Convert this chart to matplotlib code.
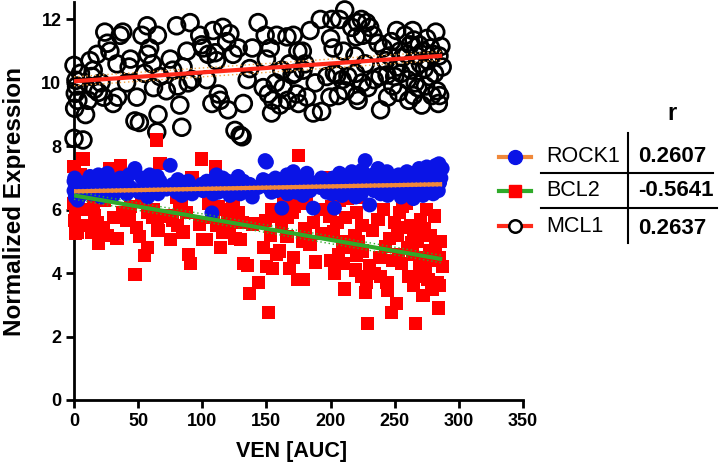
import matplotlib
matplotlib.use("Agg")
import matplotlib.pyplot as plt
from matplotlib.lines import Line2D
import numpy as np

plt.rcParams['font.family'] = ['Liberation Sans', 'DejaVu Sans']

# VEN AUC per sample (shared by all three genes)
ven_auc = [
    0, 0, 0.5, 1, 1.5, 2, 3, 5, 7, 9,
    11, 12.5, 14, 15, 16, 18, 19, 21, 23, 24, 26, 28, 30.5, 33.5, 34, 36, 38, 41, 43, 44, 47.5, 49,
    51, 53, 55, 57, 57.5, 59, 61, 62, 64.5, 65, 65.5, 67, 72, 75, 77, 80, 81, 82.5, 84, 85, 88, 89, 90.5, 92, 98,
    99.5, 100.5, 103.5, 104.6, 107.5, 108.5, 110, 111, 112.5, 114, 116, 119, 120, 121.5, 124, 125.5, 128, 129.5,
    131, 132, 135, 137, 139, 143.5, 147.5,
    149, 150, 151.5, 153, 154, 155, 157, 158, 160.5, 162, 163, 166, 166.5, 168, 170, 171, 172, 173.5, 174.5, 175,
    178, 178.5, 180, 181.5, 184, 186.5, 188, 192, 193, 197,
    199.5, 200, 201, 202, 203, 205, 206, 207, 209, 210, 211, 211.5, 213.5, 216.5, 219, 219.5, 220, 220.5, 221, 221.5,
    224, 224.5, 225, 227, 228, 229, 230.5, 233, 234, 237, 238.5, 239, 241, 243, 244, 244.5, 246, 247.5, 248.5, 250,
    251.5, 252, 253, 254, 255, 256, 258, 259.5, 260, 261, 262, 263, 264, 264.5, 265, 266, 267, 268, 269, 270,
    271, 272, 273, 274, 275, 276, 277, 278, 279, 280, 281, 282, 283, 284, 284.5, 285, 286, 287,
]

mcl1 = [
    10.55, 8.25, 9.2, 9.67, 10.08, 9.9, 9.45, 10.3, 8.2, 9.0,
    9.45, 10.7, 10.2, 10.4, 9.8, 10.9, 9.7, 10.0, 9.55, 11.6, 11.25, 11.0, 9.35, 10.6, 9.55, 11.5, 11.6, 10.0, 10.5, 10.75, 8.8, 9.55,
    8.75, 11.5, 10.3, 11.8, 10.9, 11.1, 10.6, 9.85, 8.45, 11.5, 9.0, 10.2, 9.75, 10.75, 10.4, 11.8, 9.9, 9.3, 8.6, 10.5, 11.0, 10.0, 11.9, 10.1, 11.5,
    11.2, 11.1, 10.1, 10.9, 9.35, 11.65, 10.95, 10.7, 9.65, 9.45, 11.75, 11.3, 9.15, 11.55, 10.9, 8.5, 11.1, 8.35,
    8.3, 9.35, 10.1, 10.45, 11.1, 11.9, 9.85,
    11.5, 10.75, 9.65, 11.1, 9.05, 9.45, 10.0, 11.5, 9.3, 10.4, 9.85, 11.45, 9.45, 10.6, 10.25, 11.5, 10.3, 9.65, 11.0, 9.35,
    11.0, 10.4, 10.6, 9.55, 11.65, 9.05, 10.0, 12.0, 9.1, 10.2,
    9.55, 11.4, 12.0, 11.1, 10.3, 10.25, 9.6, 12.0, 10.1, 11.0, 12.3, 9.75, 10.2, 11.75, 10.85, 10.3, 11.45, 9.6, 11.9, 9.45,
    12.0, 10.0, 11.5, 10.6, 11.9, 9.85, 11.75, 11.5, 10.1, 11.25, 10.2, 9.15, 11.1, 10.7, 10.25, 9.55, 10.85, 11.3, 9.9, 10.2,
    11.65, 10.5, 9.7, 11.0, 10.3, 10.8, 11.5, 10.9, 10.1, 9.45, 11.2, 10.4, 11.65, 9.6, 11.35, 10.0, 10.85, 9.85, 11.2, 10.6,
    9.3, 11.0, 10.45, 9.9, 11.4, 10.7, 10.2, 11.1, 9.6, 10.9, 10.3, 11.6, 9.75, 9.35, 10.85, 9.6, 11.15, 10.5,
]

bcl2 = [
    7.35, 6.2, 5.65, 5.25, 6.0, 6.5, 5.3, 7.1, 7.6, 5.5,
    5.5, 6.0, 5.3, 6.2, 5.8, 5.6, 4.95, 5.35, 5.45, 6.3, 5.2, 7.3, 5.75, 5.1, 6.6, 7.4, 5.9, 5.65, 5.8, 6.1, 3.95, 5.45,
    5.15, 6.3, 4.55, 5.9, 4.8, 6.6, 5.75, 6.0, 8.2, 5.6, 5.35, 7.45, 5.8, 5.05, 5.65, 6.4, 5.5, 6.0, 6.2, 5.3, 5.9, 4.6, 4.3, 7.0, 5.55,
    7.6, 5.05, 5.05, 6.2, 5.75, 5.9, 7.35, 5.5, 6.1, 4.8, 5.3, 6.0, 5.7, 5.35, 6.2, 5.1, 5.9, 5.05,
    5.6, 4.3, 4.25, 3.35, 5.55, 3.7, 4.8,
    5.65, 4.2, 2.75, 5.2, 6.0, 4.15, 5.8, 4.6, 4.7, 5.5, 6.3, 5.15, 5.75, 4.15, 5.9, 4.5, 6.1, 6.3, 3.8, 7.7,
    5.0, 3.8, 5.4, 6.2, 4.9, 5.6, 4.35, 6.0, 5.25, 7.0,
    5.8, 4.4, 6.1, 5.3, 4.0, 5.6, 4.6, 6.3, 5.0, 4.3, 3.5, 5.75, 6.35, 4.8, 5.2, 4.1, 5.9, 4.55, 6.4, 5.0,
    3.9, 5.5, 4.7, 3.4, 3.7, 2.4, 4.25, 5.35, 4.0, 5.7, 4.5, 3.9, 6.0, 4.85, 3.7, 3.45, 5.1, 2.75, 4.4, 5.6,
    3.05, 5.2, 4.6, 5.9, 4.3, 6.1, 5.45, 6.2, 4.8, 3.9, 5.5, 4.95, 4.6, 3.6, 5.3, 2.4, 3.9, 5.0, 4.2, 5.7,
    4.5, 3.3, 5.4, 4.1, 6.0, 3.8, 4.7, 5.2, 3.5, 4.4, 5.8, 4.9, 3.7, 2.9, 4.5, 3.6, 5.0, 4.2,
]

rock1 = [
    6.9, 6.6, 7.0, 6.4, 6.75, 6.55, 6.3, 6.85, 6.5, 6.7,
    6.8, 7.05, 6.5, 6.95, 6.6, 6.7, 7.1, 6.4, 6.85, 6.6, 7.15, 6.75, 6.45, 6.9, 6.65, 7.0, 6.8, 6.5, 7.1, 6.7, 7.3, 6.6,
    6.55, 7.0, 6.7, 6.9, 6.4, 7.1, 6.6, 6.85, 6.75, 7.05, 6.5, 6.9, 6.65, 7.4, 6.8, 6.55, 6.95, 6.7, 6.45, 6.85, 6.6, 6.9, 6.75, 6.5, 6.7,
    6.8, 6.6, 6.9, 6.7, 5.9, 6.5, 6.85, 7.1, 6.55, 6.75, 7.0, 6.6, 6.9, 6.45, 6.8, 6.65, 7.05, 6.5,
    6.75, 6.9, 6.6, 6.8, 6.4, 6.7, 6.95,
    7.55, 7.5, 6.7, 6.9, 6.55, 6.8, 7.0, 6.6, 6.85, 6.05, 6.75, 7.1, 6.5, 6.9, 6.65, 7.2, 6.8, 6.55, 7.0, 6.7,
    6.9, 6.45, 6.8, 7.15, 6.6, 6.05, 6.85, 6.7, 7.0, 6.55,
    6.7, 6.9, 6.5, 7.0, 6.05, 6.8, 6.6, 7.15, 6.45, 6.9, 6.75, 7.05, 6.55, 7.2, 6.85, 6.4, 7.0, 6.65, 7.1, 6.8,
    6.5, 7.25, 6.9, 7.55, 6.7, 6.95, 6.15, 7.1, 6.6, 7.3, 6.85, 6.5, 7.0, 6.75, 7.2, 6.45, 6.9, 6.6, 7.05, 6.8,
    6.9, 6.55, 7.1, 6.8, 6.4, 7.0, 6.7, 7.2, 6.6, 6.95, 6.5, 7.05, 6.8, 6.35, 7.15, 6.75, 6.9, 6.6, 7.3, 6.7,
    6.85, 6.45, 7.0, 6.8, 7.35, 6.6, 6.95, 6.75, 7.1, 6.5, 6.9, 7.4, 6.7, 6.6, 7.45, 6.85, 7.0, 7.3,
]

genes = ["ROCK1", "BCL2", "MCL1"]
r_values = ["0.2607", "-0.5641", "0.2637"]
# linear fits: intercept, slope, half-width of the 95% band
fit_intercept = [6.58, 6.45, 10.05]
fit_slope = [0.00078, -0.0070, 0.0028]
band_halfwidth = [0.05, 0.12, 0.14]

fit_color = ["#F0883A", "#2FAA2A", "#FF2A1A"]
band_color = ["#F0883A", "#2FAA2A", "#F0A040"]

W, H = 727, 476
fig = plt.figure(figsize=(W / 100, H / 100), dpi=100)
ax = fig.add_axes([74 / W, 1 - 400 / H, (523 - 74) / W, (400 - 2) / H])

x = np.array(ven_auc)

ax.scatter(x, mcl1, s=145, facecolors="none", edgecolors="black", linewidths=2.0, zorder=2, clip_on=False)
ax.scatter(x, bcl2, s=90, marker="s", color="#FF0000", edgecolors="none", zorder=3, clip_on=False)
ax.scatter(x, rock1, s=115, marker="o", color="#0A14E6", edgecolors="none", zorder=4, clip_on=False)

xf = np.linspace(0, x.max(), 60)
for i in range(3):
    yf = fit_intercept[i] + fit_slope[i] * xf
    for sgn in (-1, 1):
        ax.plot(xf, yf + sgn * band_halfwidth[i], color=band_color[i], lw=1.0,
                ls=(0, (1, 2)), zorder=5)
for i in (0, 1, 2):
    yf = fit_intercept[i] + fit_slope[i] * xf
    ax.plot(xf, yf, color=fit_color[i], lw=3.0, zorder=6, solid_capstyle="butt")

ax.set_xlim(0, 350)
ax.set_ylim(0, 12.55)
ax.set_xticks(np.arange(0, 351, 50))
ax.set_yticks(np.arange(0, 13, 2))
for s in ("top", "right"):
    ax.spines[s].set_visible(False)
for s in ("left", "bottom"):
    ax.spines[s].set_linewidth(2.0)
ax.tick_params(direction="out", length=6, width=2.0, labelsize=13, pad=3)
for lab in ax.get_xticklabels() + ax.get_yticklabels():
    lab.set_fontweight("bold")

fig.text(15 / W, 1 - 202 / H, "Normalized Expression", rotation=90, ha="center", va="center",
         fontsize=17.5, fontweight="bold")
fig.text(292 / W, 1 - 452 / H, "VEN [AUC]", ha="center", va="center", fontsize=15.5, fontweight="bold")

# correlation table
def fx(px):
    return px / W

def fy(py):
    return 1 - py / H

fig.text(fx(672), fy(114), "r", ha="center", va="center", fontsize=17, fontweight="bold")
row_y = [157, 191, 226]
markers = [dict(marker="o", mfc="#0A14E6", mec="#0A14E6", ms=10),
           dict(marker="s", mfc="#FF0000", mec="#FF0000", ms=9),
           dict(marker="o", mfc="white", mec="black", ms=9, mew=1.8)]
for i, g in enumerate(genes):
    yy = fy(row_y[i])
    fig.add_artist(Line2D([fx(499), fx(531)], [yy, yy], color=fit_color[i], lw=3,
                          transform=fig.transFigure))
    fig.add_artist(Line2D([fx(515)], [yy], transform=fig.transFigure, ls="none", **markers[i]))
    fig.text(fx(546), yy, g, ha="left", va="center", fontsize=15.5)
    fig.text(fx(638), fy(row_y[i] + (2 if i == 2 else 0)), r_values[i], ha="left", va="center",
             fontsize=16, fontweight="bold")

fig.add_artist(Line2D([fx(628), fx(628)], [fy(133), fy(243)], color="black", lw=1.5,
                      transform=fig.transFigure))
fig.add_artist(Line2D([fx(541), fx(713)], [fy(173), fy(173)], color="black", lw=1.5,
                      transform=fig.transFigure))
fig.add_artist(Line2D([fx(541), fx(717)], [fy(208), fy(208)], color="black", lw=1.5,
                      transform=fig.transFigure))

fig.savefig("out.png", dpi=100)
